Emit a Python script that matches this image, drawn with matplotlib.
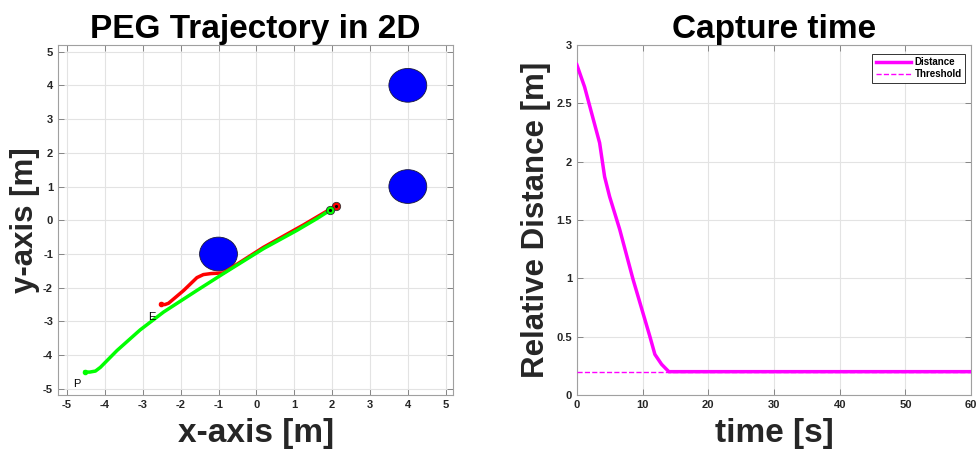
import numpy as np
import matplotlib
matplotlib.use('Agg')
import matplotlib.pyplot as plt
from matplotlib.patches import Circle

plt.rcParams['font.family'] = ['Liberation Sans', 'DejaVu Sans']
plt.rcParams['axes.unicode_minus'] = False

# obstacles (centre x, centre y, radius)
ObsX    = [4, 4, -1]
ObsY    = [4, 1, -1]
ObsR    = [0.5, 0.5, 0.5]

# pursuer trajectory
PegX    = [-4.52, -4.4, -4.25, -4.12, -3.68, -3.07, -2.45, -1.57, -0.87, 0.19, 1.07, 1.6, 1.95]
PegY    = [-4.5, -4.5, -4.47, -4.36, -3.86, -3.25, -2.72, -2.08, -1.58, -0.84, -0.3, 0.05, 0.3]

# evader trajectory
EvaX    = [-2.51, -2.42, -2.32, -1.92, -1.57, -1.4, -1.2, -0.87, 0.19, 1.24, 1.95, 2.1]
EvaY    = [-2.49, -2.5, -2.46, -2.08, -1.7, -1.61, -1.58, -1.56, -0.8, -0.14, 0.33, 0.43]

# relative distance over time
Time      = [0, 1.18, 3.47, 4.23, 4.99, 6.52, 8.56, 11.1, 11.88, 12.9, 14.0, 20, 30, 40, 50, 60]
Distance  = [2.83, 2.64, 2.16, 1.87, 1.7, 1.42, 0.99, 0.505, 0.348, 0.263, 0.2, 0.2, 0.2, 0.2, 0.2, 0.2]
Threshold = 0.2

tickColor  = '#262626'
labelColor = '#262626'


def StyleAxes(ax):
	ax.grid(True, color='#e3e3e3', linewidth=0.8)
	ax.set_axisbelow(True)
	ax.tick_params(direction='in', top=True, right=True, length=4, width=0.6,
	               labelsize=8, colors='#777777', labelcolor=tickColor)
	for lbl in ax.get_xticklabels() + ax.get_yticklabels():
		lbl.set_fontweight('bold')
	for sp in ax.spines.values():
		sp.set_color('#a0a0a0')
		sp.set_linewidth(0.8)


fig = plt.figure(figsize=(9.76, 4.53), dpi=100)

# ---- left : trajectories
ax1 = fig.add_axes([0.0594, 0.128, 0.405, 0.773])
for cx, cy, r in zip(ObsX, ObsY, ObsR):
	ax1.add_patch(Circle((cx, cy), r, facecolor='#0000ff', edgecolor='#1a1a3a', linewidth=0.6, zorder=3))

ax1.plot(EvaX, EvaY, '-', color='#ff0000', linewidth=2.5, zorder=4)
ax1.plot(PegX, PegY, '-', color='#00ff00', linewidth=2.5, zorder=5)
ax1.plot(EvaX[0], EvaY[0], 'o', color='#ff0000', markersize=3, zorder=6)
ax1.plot(PegX[0], PegY[0], 'o', color='#00ff00', markersize=3, zorder=6)
ax1.plot(EvaX[-1], EvaY[-1], 'o', markerfacecolor='#ff0000', markeredgecolor='#333333', markersize=6, markeredgewidth=0.6, zorder=6)
ax1.plot(EvaX[-1], EvaY[-1], '.', color='black', markersize=2.5, zorder=7)
ax1.plot(PegX[-1], PegY[-1], 'o', markerfacecolor='#00ff00', markeredgecolor='#333333', markersize=6, markeredgewidth=0.6, zorder=6)
ax1.plot(PegX[-1], PegY[-1], '.', color='black', markersize=2.5, zorder=7)
ax1.text(-2.75, -2.87, 'E', fontsize=8, ha='center', va='center', zorder=8)
ax1.text(-4.75, -4.85, 'P', fontsize=8, ha='center', va='center', zorder=8)

ax1.set_xlim(-5.24, 5.2)
ax1.set_ylim(-5.18, 5.2)
ax1.set_xticks(range(-5, 6))
ax1.set_yticks(range(-5, 6))
StyleAxes(ax1)
ax1.set_title('PEG Trajectory in 2D', fontsize=24, fontweight='bold', pad=5)
ax1.set_xlabel('x-axis [m]', fontsize=24, fontweight='bold', color=labelColor, labelpad=6)
ax1.set_ylabel('y-axis [m]', fontsize=22.5, fontweight='bold', color=labelColor, labelpad=2)

# ---- right : capture time
ax2 = fig.add_axes([0.591, 0.128, 0.404, 0.773])
ax2.plot(Time, Distance, '-', color='#ff00ff', linewidth=2.5, label='Distance', zorder=4)
ax2.plot([0, 60], [Threshold, Threshold], '--', color='#ff00ff', linewidth=1, label='Threshold', zorder=3)
ax2.set_xlim(0, 60)
ax2.set_ylim(0, 3)
ax2.set_xticks(range(0, 61, 10))
ax2.set_yticks([0, 0.5, 1, 1.5, 2, 2.5, 3])
ax2.set_yticklabels(['0', '0.5', '1', '1.5', '2', '2.5', '3'])
StyleAxes(ax2)
leg = ax2.legend(loc='upper right', bbox_to_anchor=(0.985, 0.975), prop={'size': 7, 'weight': 'bold'},
                 fancybox=False, edgecolor='#333333', handlelength=3.6, handletextpad=0.4,
                 borderpad=0.35, labelspacing=0.25, borderaxespad=0, framealpha=1)
leg.get_frame().set_linewidth(0.7)
ax2.set_title('Capture time', fontsize=24, fontweight='bold', pad=5)
ax2.set_xlabel('time [s]', fontsize=24, fontweight='bold', color=labelColor, labelpad=6)
ax2.set_ylabel('Relative Distance [m]', fontsize=22.5, fontweight='bold', color=labelColor, labelpad=4)

plt.savefig('out.png', dpi=100)
